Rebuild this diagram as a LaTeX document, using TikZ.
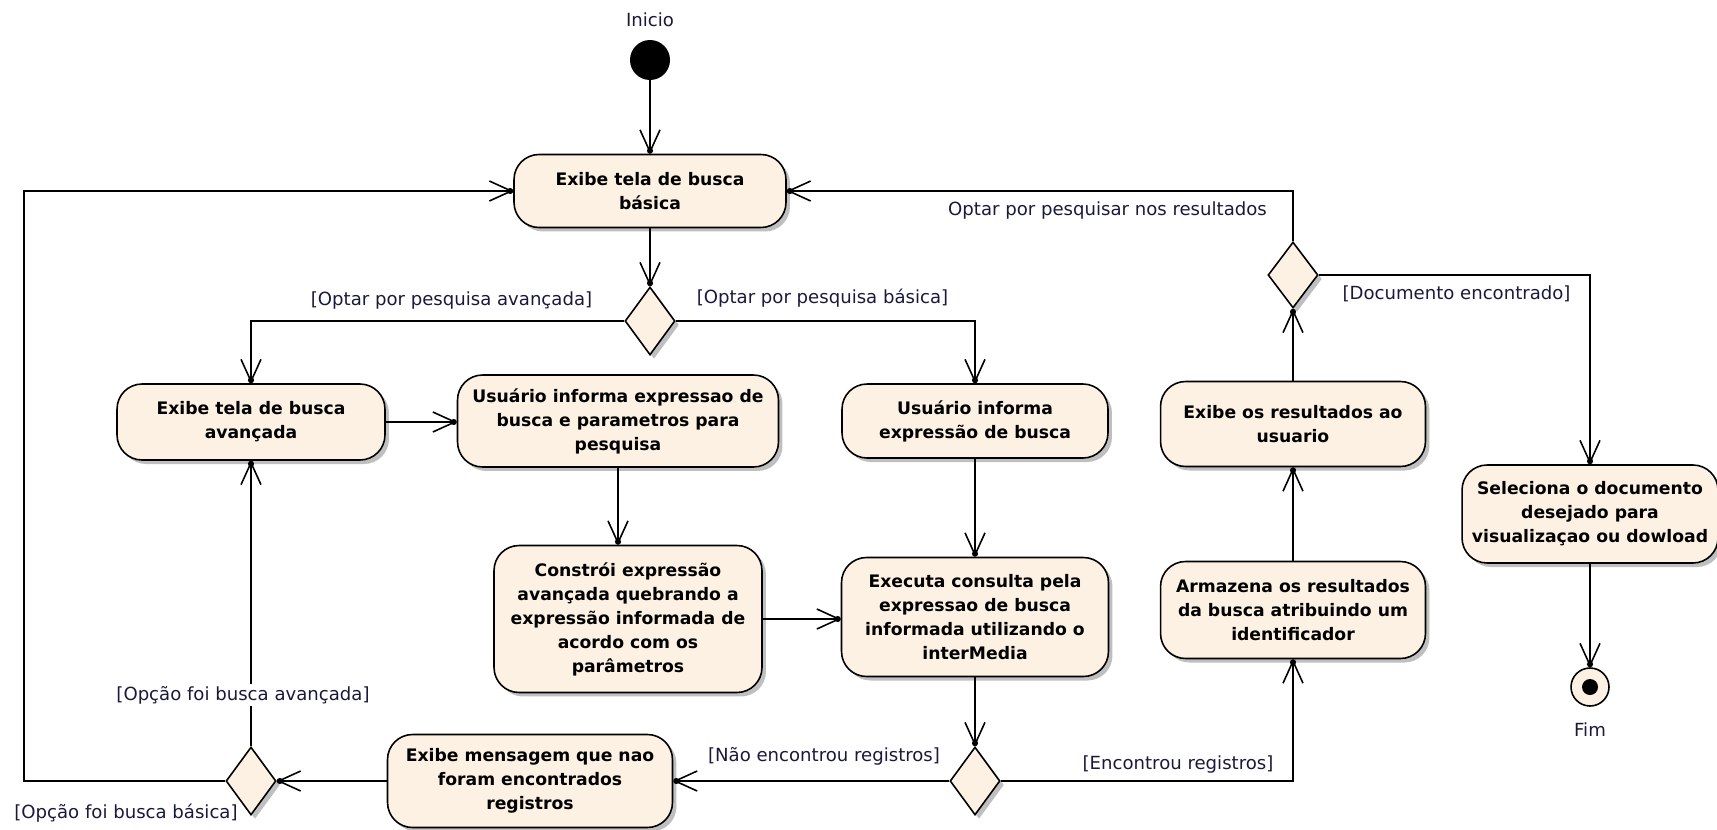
\documentclass[tikz,border=0pt]{standalone}
\usepackage{fontspec}
\setmainfont{DejaVu Sans}
\usepackage{tikz}
\usetikzlibrary{arrows.meta}
\usetikzlibrary{positioning,shapes.geometric,shadows}
\definecolor{actfill}{RGB}{252,241,226}
\definecolor{guardtext}{RGB}{25,25,60}

\begin{document}
\begin{tikzpicture}[
x=0.02cm, y=-0.02cm,
MyAction/.style={draw=black,line width=0.9pt,fill=actfill,rounded corners=0.5cm,
  align=center,inner sep=0pt,font=\fontsize{9.8}{13.66}\selectfont\bfseries,
  drop shadow={shadow xshift=0.08cm,shadow yshift=-0.08cm,fill=black!25,opacity=1}},
MyDecision/.style={diamond,draw=black,line width=0.9pt,fill=actfill,inner sep=0pt,
  minimum width=1cm,minimum height=1.36cm,
  drop shadow={shadow xshift=0.08cm,shadow yshift=-0.08cm,fill=black!25,opacity=1}},
MyFlow/.style={draw=black,line width=0.9pt,
  -{Straight Barb[length=4.4mm,width=4mm,sep=-1.2mm]Circle[length=1.2mm]}},
MyGuard/.style={text=guardtext,font=\fontsize{10.3}{12}\selectfont,inner sep=1pt}
]
\useasboundingbox (0,0) rectangle (1717,829);
\clip (0,0) rectangle (1717,829);

% start and end
\node [circle,fill=black,minimum size=0.8cm,inner sep=0pt] (start) at (650,60) {};
\node [MyGuard] (inicio) at (650,20) {Inicio};
\node [circle,draw=black,line width=0.9pt,fill=actfill,minimum size=0.76cm,inner sep=0pt] (fim) at (1590,687) {};
\node [circle,fill=black,minimum size=0.32cm,inner sep=0pt] at (fim) {};
\node [MyGuard] (fimtxt) at (1590,730) {Fim};

% actions
\node [MyAction,minimum width=5.44cm,minimum height=1.46cm] (basica) at (650,191) {Exibe tela de busca\\básica};
\node [MyAction,minimum width=5.36cm,minimum height=1.52cm] (avancada) at (251,422) {Exibe tela de busca\\avançada};
\node [MyAction,minimum width=6.42cm,minimum height=1.84cm] (parametros) at (618,421) {Usuário informa expressao de\\busca e parametros para\\pesquisa};
\node [MyAction,minimum width=5.36cm,minimum height=2.94cm] (constroi) at (628,619) {Constrói expressão\\avançada quebrando a\\expressão informada de\\acordo com os\\parâmetros};
\node [MyAction,minimum width=5.32cm,minimum height=1.48cm] (informa) at (975,421) {Usuário informa\\expressão de busca};
\node [MyAction,minimum width=5.34cm,minimum height=2.38cm] (executa) at (975,617) {Executa consulta pela\\expressao de busca\\informada utilizando o\\interMedia};
\node [MyAction,minimum width=5.7cm,minimum height=1.86cm] (mensagem) at (530,781) {Exibe mensagem que nao\\foram encontrados\\registros};
\node [MyAction,minimum width=5.3cm,minimum height=1.7cm] (resultados) at (1293,424) {Exibe os resultados ao\\usuario};
\node [MyAction,minimum width=5.3cm,minimum height=1.94cm] (armazena) at (1293,610) {Armazena os resultados\\da busca atribuindo um\\identificador};
\node [MyAction,minimum width=5.12cm,minimum height=1.96cm] (seleciona) at (1590,514) {Seleciona o documento\\desejado para\\visualizaçao ou dowload};

% decisions
\node [MyDecision] (dOpcao) at (650,321) {};
\node [MyDecision] (dRegistro) at (975,781) {};
\node [MyDecision] (dVolta) at (251,781) {};
\node [MyDecision,minimum height=1.32cm] (dDocumento) at (1293,275) {};

% flows
\draw[MyFlow] (start) -- (basica);
\draw[MyFlow] (basica) -- (dOpcao);
\draw[MyFlow] (dOpcao.west) -| (avancada.north);
\draw[MyFlow] (dOpcao.east) -| (informa.north);
\draw[MyFlow] (avancada.east) -- (avancada.east -| parametros.west);
\draw[MyFlow] (parametros.south) -- (parametros.south |- constroi.north);
\draw[MyFlow] (constroi.east) -- (constroi.east -| executa.west);
\draw[MyFlow] (informa) -- (executa);
\draw[MyFlow] (executa) -- (dRegistro);
\draw[MyFlow] (dRegistro.west) -- (dRegistro.west -| mensagem.east);
\draw[MyFlow] (dRegistro.east) -| (armazena.south);
\draw[MyFlow] (armazena) -- (resultados);
\draw[MyFlow] (resultados) -- (dDocumento);
\draw[MyFlow] (dDocumento.north) |- (basica.east);
\draw[MyFlow] (dDocumento.east) -| (seleciona.north);
\draw[MyFlow] (seleciona) -- (fim);
\draw[MyFlow] (mensagem.west) -- (mensagem.west -| dVolta.east);
\draw[MyFlow] (dVolta.north) -- (dVolta.north |- avancada.south);
\draw[MyFlow] (dVolta.west) -- ++(-201,0) |- (basica.west);

% guards
\node [MyGuard] (gAvancada) at (451.5,300) {[Optar por pesquisa avançada]};
\node [MyGuard] (gBasica) at (822.5,298) {[Optar por pesquisa básica]};
\node [MyGuard] (gPesquisar) at (1107.5,211) {Optar por pesquisar nos resultados};
\node [MyGuard] (gDocumento) at (1456.5,294) {[Documento encontrado]};
\node [MyGuard,fill=white] (gOpAvancada) at (243,695) {[Opção foi busca avançada]};
\node [MyGuard] (gOpBasica) at (126,813) {[Opção foi busca básica]};
\node [MyGuard] (gNao) at (824,756) {[Não encontrou registros]};
\node [MyGuard] (gSim) at (1178,764) {[Encontrou registros]};

\end{tikzpicture}
\end{document}
